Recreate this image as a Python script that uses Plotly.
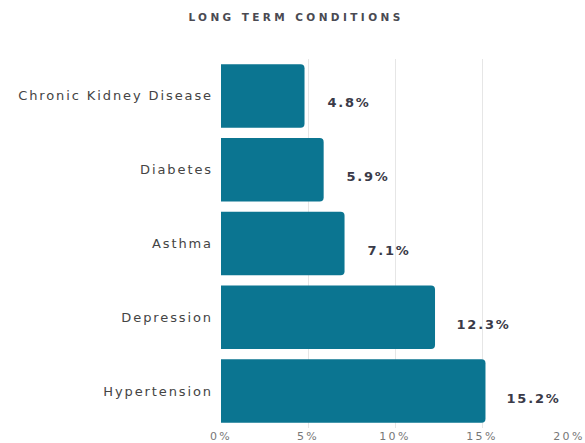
import plotly.graph_objects as go

# Long term conditions prevalence, listed top to bottom
conditions = ["Chronic Kidney Disease", "Diabetes", "Asthma", "Depression", "Hypertension"]
prevalence = [4.8, 5.9, 7.1, 12.3, 15.2]
tick_vals = [0, 5, 10, 15, 20]
tick_text = ["0%", "5%", "10%", "15%", "20%"]

BAR_COLOR = "#0b7591"
FONT = "DejaVu Sans, Arial, sans-serif"

fig = go.Figure(
    go.Bar(
        x=prevalence,
        y=conditions,
        orientation="h",
        marker=dict(color=BAR_COLOR, line=dict(width=0)),
        width=0.86,
        hoverinfo="skip",
    )
)

# value labels to the right of each bar
for cond, val in zip(conditions, prevalence):
    fig.add_annotation(
        x=val, y=cond, text=f"{val}%",
        xanchor="left", yanchor="middle",
        xshift=24, yshift=-7, showarrow=False,
        font=dict(family=FONT, size=13, color="#3a3a48", weight="bold"),
    )

fig.update_layout(
    width=585, height=443,
    margin=dict(l=221, r=16, t=59, b=15),
    paper_bgcolor="white", plot_bgcolor="white",
    barcornerradius=4,
    showlegend=False,
    title=dict(
        text="LONG TERM CONDITIONS",
        x=0.506, xanchor="center", y=0.962, yanchor="middle",
        font=dict(family=FONT, size=10.5, color="#4a4a52", weight="bold"),
    ),
    xaxis=dict(
        range=[0, 20], tickvals=tick_vals, ticktext=tick_text,
        showgrid=True, gridcolor="#e6e6e6", gridwidth=1,
        zeroline=False, showline=False, ticks="", automargin=False,
        tickfont=dict(family=FONT, size=11, color="#777777"),
    ),
    yaxis=dict(
        autorange="reversed", showgrid=False, zeroline=False, showline=False,
        ticks="", ticklabelstandoff=7, automargin=False,
        tickfont=dict(family=FONT, size=13, color="#444444"),
    ),
)

# wide letter spacing on the chart's text
spacing_js = """
var rules = [['.gtitle', '3.4px'], ['.ytick text', '1.9px'],
             ['.xtick text', '2.4px'], ['.annotation-text', '1.8px']];
rules.forEach(function(r){
  document.querySelectorAll(r[0]).forEach(function(t){ t.style.letterSpacing = r[1]; });
});
"""

fig.write_html("out.html", post_script=spacing_js)
